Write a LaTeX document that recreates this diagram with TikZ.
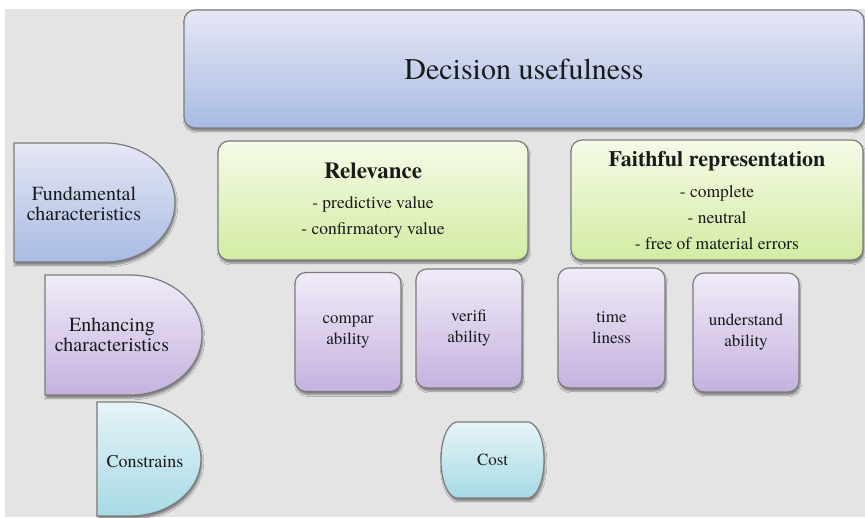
\documentclass[tikz,border=0pt]{standalone}
\usepackage{fontspec}
\setmainfont{TeX Gyre Termes}
\usetikzlibrary{shadows.blur}

\definecolor{bggray}{HTML}{E3E4E3}
\definecolor{edgegray}{HTML}{7C7C7C}
\definecolor{bluetop}{HTML}{E5E7F5}
\definecolor{bluebot}{HTML}{A8BBE3}
\definecolor{greentop}{HTML}{F5FBE8}
\definecolor{greenbot}{HTML}{D2ECA2}
\definecolor{purpletop}{HTML}{F1EBF8}
\definecolor{purplebot}{HTML}{C4B2DF}
\definecolor{cyantop}{HTML}{E6F4F7}
\definecolor{cyanbot}{HTML}{A7DAE6}
\definecolor{inkgray}{HTML}{1A1A1A}

\tikzset{
  x=1pt, y=-1pt,
  boxedge/.style={draw=edgegray, line width=1.2pt,
    blur shadow={shadow xshift=1pt, shadow yshift=-3pt,
      shadow blur steps=6, shadow opacity=45}},
  panel/.style={boxedge, rounded corners=11pt, inner sep=0pt},
  bluefill/.style={top color=bluetop, bottom color=bluebot},
  greenfill/.style={top color=greentop, bottom color=greenbot},
  purplefill/.style={top color=purpletop, bottom color=purplebot},
  cyanfill/.style={top color=cyantop, bottom color=cyanbot},
  lbl/.style={text=inkgray, align=center, inner sep=0pt},
  bigtext/.style={lbl, font=\rmfamily\fontsize{20pt}{20pt}\selectfont},
  smalltext/.style={lbl, font=\rmfamily\fontsize{17pt}{21pt}\selectfont},
  listtext/.style={lbl, font=\rmfamily\fontsize{17.5pt}{26pt}\selectfont},
  qualbox/.style={panel, purplefill, minimum width=106pt, minimum height=119pt,
    smalltext},
}

\begin{document}
\begin{tikzpicture}
  % canvas and backdrop
  \useasboundingbox (0,0) rectangle (865,517);
  \fill[white] (0,0) rectangle (865,517);
  \fill[bggray] (5,9) rectangle (865,517);

  % top banner
  \node[panel, bluefill, minimum width=680pt, minimum height=118pt,
        lbl, font=\rmfamily\fontsize{30pt}{32pt}\selectfont]
        (usefulness) at (524,69) {Decision usefulness};

  % row labels with rounded right ends
  \path[boxedge, bluefill] (14,143) -- (105,143)
    arc[start angle=90, end angle=-90, x radius=70pt, y radius=59.5pt]
    -- (14,262) -- cycle;
  \node[bigtext] (fundamental) at (84,203.5) {Fundamental\\characteristics};

  \path[boxedge, purplefill] (45,275) -- (130,275)
    arc[start angle=90, end angle=-90, x radius=72pt, y radius=60pt]
    -- (45,395) -- cycle;
  \node[bigtext] (enhancing) at (112,335) {Enhancing\\characteristics};

  \path[boxedge, cyanfill] (97,402) -- (130,402)
    arc[start angle=90, end angle=-90, x radius=71pt, y radius=57pt]
    -- (97,516) -- cycle;
  \node[lbl, font=\rmfamily\fontsize{18pt}{20pt}\selectfont] (constrains) at (145,462) {Constrains};

  % fundamental qualities
  \node[panel, greenfill, minimum width=310pt, minimum height=119pt, listtext]
    (relevance) at (373,200.5)
    {{\fontsize{23pt}{26pt}\selectfont\bfseries Relevance}\\[4pt]
     - predictive value\\
     - confirmatory value};

  \node[panel, greenfill, minimum width=292pt, minimum height=120pt, listtext]
    (faithful) at (717,200)
    {{\fontsize{22pt}{26pt}\selectfont\bfseries Faithful representation}\\[5pt]
     - complete\\
     - neutral\\
     - free of material errors};

  % enhancing qualities
  \node[qualbox] (comparability) at (348,332) {compar\\ability};
  \node[qualbox] (verifiability) at (469,328.5) {verifi\\ability};
  \node[qualbox, minimum width=107pt, minimum height=120pt] (timeliness) at (611.5,328) {time\\liness};
  \node[qualbox] (understandability) at (746,332.5) {understand\\ability};

  % cost constraint with bulging sides
  \path[boxedge, cyanfill] (456,422) -- (529,422)
    .. controls (549,428) and (549,492) .. (529,498)
    -- (456,498)
    .. controls (436,492) and (436,428) .. (456,422) -- cycle;
  \node[lbl, font=\rmfamily\fontsize{17pt}{20pt}\selectfont] (cost) at (492.5,460) {Cost};
\end{tikzpicture}
\end{document}
